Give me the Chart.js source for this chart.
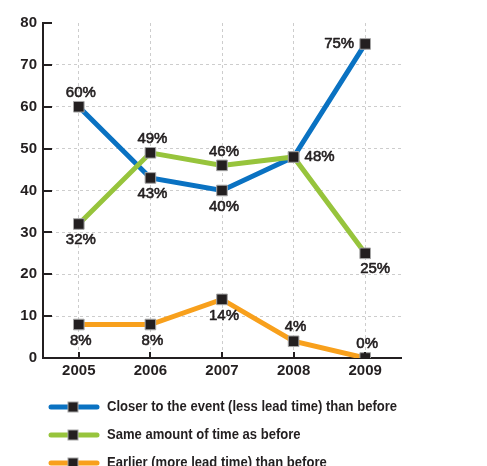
<!DOCTYPE html>
<html>
<head>
<meta charset="utf-8">
<script src="https://cdn.jsdelivr.net/npm/chart.js@4.4.1/dist/chart.umd.min.js"></script>
<style>
  html, body { margin: 0; padding: 0; background: #fff; overflow: hidden; }
  #wrap { position: relative; width: 487px; height: 466px; }
</style>
</head>
<body>
<div id="wrap"><canvas id="leadTime"></canvas></div>
<script>
"use strict";
// data
var years = ["2005", "2006", "2007", "2008", "2009"];
var closerValues = [60, 43, 40, 48, 75];
var sameValues = [32, 49, 46, 48, 25];
var earlierValues = [8, 8, 14, 4, 0];
var yTicks = [0, 10, 20, 30, 40, 50, 60, 70, 80];
var seriesNames = [
    "Closer to the event (less lead time) than before",
    "Same amount of time as before",
    "Earlier (more lead time) than before"
];

// where each value label sits next to its point (null = no label)
var closerLabelPos = ["top", "bottom", "bottom", "right", "left"];
var sameLabelPos = ["bottom", "top", "top", null, "bottomRight"];
var earlierLabelPos = ["bottom", "bottom", "bottom", "top", "top"];

var colors = ["#0a72c2", "#97c43c", "#f8a01c"];
var ink = "#231f20";
var gridGray = "#cdcdcd";
var labelFont = "15px 'Liberation Sans', Arial, sans-serif";

function series(label, values, color, pos, order) {
    return {
        label: label,
        data: values,
        labelPos: pos,
        order: order,
        borderColor: color,
        backgroundColor: color,
        borderWidth: 5,
        tension: 0,
        fill: false,
        pointStyle: "rect",
        pointRadius: 7.5,
        pointHoverRadius: 7.5,
        pointBackgroundColor: ink,
        pointBorderColor: "#a5a5a5",
        pointBorderWidth: 1
    };
}

// axis tick marks (drawn inward), value labels and the legend rows
var decorations = {
    id: "decorations",
    afterDatasetsDraw: function(chart) {
        var ctx = chart.ctx, area = chart.chartArea;
        var xs = chart.scales.x, ys = chart.scales.y;
        ctx.save();
        ctx.strokeStyle = ink;
        ctx.lineWidth = 2;
        ctx.beginPath();
        yTicks.forEach(function(v) {
            if (v === 0) return;
            var y = Math.round(ys.getPixelForValue(v));
            ctx.moveTo(area.left, y);
            ctx.lineTo(area.left + 9, y);
        });
        years.forEach(function(c, i) {
            var x = Math.round(xs.getPixelForValue(i));
            ctx.moveTo(x, area.bottom);
            ctx.lineTo(x, area.bottom - 6);
        });
        ctx.stroke();

        // value labels, regular face with a thin stroke for a medium weight
        ctx.font = labelFont;
        ctx.fillStyle = ink;
        ctx.strokeStyle = ink;
        ctx.lineWidth = 0.6;
        ctx.lineJoin = "round";
        ctx.textBaseline = "middle";
        chart.data.datasets.forEach(function(ds, di) {
            var meta = chart.getDatasetMeta(di);
            meta.data.forEach(function(pt, i) {
                var pos = ds.labelPos[i];
                if (!pos) return;
                var txt = ds.data[i] + "%";
                var x = pt.x, y = pt.y;
                ctx.textAlign = "center";
                if (pos === "top") { y -= 14; x += 2; }
                else if (pos === "bottom") { y += 16; x += 2; }
                else if (pos === "right") { x += 11; ctx.textAlign = "left"; }
                else if (pos === "left") { x -= 11; ctx.textAlign = "right"; }
                else if (pos === "bottomRight") { x += 10; y += 16; }
                ctx.fillText(txt, x, y);
                ctx.strokeText(txt, x, y);
            });
        });

        // legend, text squeezed to a condensed look
        ctx.font = "bold 15px 'Liberation Sans', Arial, sans-serif";
        ctx.textAlign = "left";
        chart.data.datasets.forEach(function(ds, di) {
            var y = 407 + di * 28;
            ctx.strokeStyle = ds.borderColor;
            ctx.lineWidth = 5;
            ctx.lineCap = "round";
            ctx.beginPath();
            ctx.moveTo(51, y);
            ctx.lineTo(97, y);
            ctx.stroke();
            ctx.fillStyle = "#a5a5a5";
            ctx.fillRect(67.5, y - 5.5, 11, 11);
            ctx.fillStyle = ink;
            ctx.fillRect(68.5, y - 4.5, 9, 9);
            ctx.save();
            ctx.translate(107, y);
            ctx.scale(0.87, 1);
            ctx.fillText(ds.label, 0, 0);
            ctx.restore();
        });
        ctx.restore();
    }
};

var tickFont = { family: "'Liberation Sans', Arial, sans-serif", size: 15, weight: "bold" };

var chart = new Chart(document.getElementById("leadTime").getContext("2d"), {
    type: "line",
    data: {
        labels: years,
        datasets: [
            series(seriesNames[0], closerValues, colors[0], closerLabelPos, 3),
            series(seriesNames[1], sameValues, colors[1], sameLabelPos, 2),
            series(seriesNames[2], earlierValues, colors[2], earlierLabelPos, 1)
        ]
    },
    options: {
        responsive: true,
        maintainAspectRatio: false,
        animation: false,
        layout: { padding: { left: 0, top: 23, right: 86, bottom: 0 } },
        plugins: {
            legend: { display: false },
            tooltip: { enabled: false }
        },
        scales: {
            x: {
                offset: true,
                afterFit: function(scale) { scale.height = 108; },
                grid: {
                    offset: false,
                    drawTicks: false,
                    color: gridGray,
                    lineWidth: 1
                },
                border: { display: true, color: ink, width: 2, dash: [3, 3] },
                ticks: { padding: 4, color: ink, font: tickFont }
            },
            y: {
                min: 0,
                max: 80,
                afterFit: function(scale) { scale.width = 43; },
                afterBuildTicks: function(scale) {
                    scale.ticks = yTicks.map(function(v) { return { value: v }; });
                },
                grid: {
                    drawTicks: false,
                    color: function(c) { return c.tick && c.tick.value === 80 ? "transparent" : gridGray; },
                    lineWidth: 1
                },
                border: { display: true, color: ink, width: 2, dash: [3, 3] },
                ticks: { padding: 6, color: ink, font: tickFont }
            }
        }
    },
    plugins: [decorations]
});
</script>
</body>
</html>
